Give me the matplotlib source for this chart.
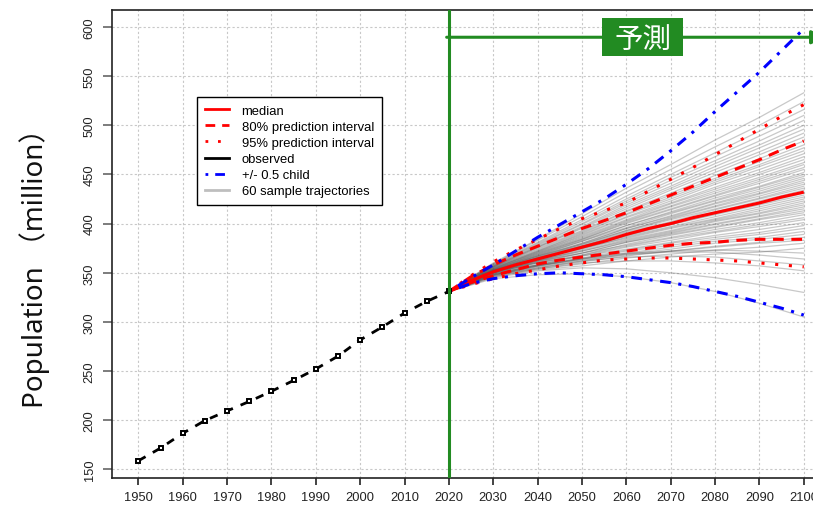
import matplotlib
matplotlib.use("Agg")
import matplotlib.pyplot as plt
from matplotlib.patches import Rectangle

# observed population (million), every 5 years
obs_years = [1950, 1955, 1960, 1965, 1970, 1975, 1980, 1985,
             1990, 1995, 2000, 2005, 2010, 2015, 2020]
obs_pop = [158.8, 171.7, 186.7, 199.7, 209.5, 219.1, 229.5, 240.5,
           252.1, 265.2, 281.7, 294.9, 309.0, 320.9, 331.0]

# projection summary, every 5 years
proj_years = [2020, 2025, 2030, 2035, 2040, 2045, 2050, 2055, 2060,
              2065, 2070, 2075, 2080, 2085, 2090, 2095, 2100]
median = [331, 342, 351, 358, 364, 370, 376, 382, 389,
          395, 400, 406, 411, 416, 421, 427, 432]
pi80_low = [331, 340, 347, 353, 359, 363, 366, 369, 372,
            375, 378, 380, 381, 383, 384, 384, 384]
pi80_high = [331, 346, 358, 368, 377, 386, 395, 403, 411,
             420, 429, 438, 447, 456, 465, 475, 484]
pi95_low = [331, 338, 344, 349, 353, 357, 360, 363, 364,
            365, 365, 364, 363, 362, 360, 358, 356]
pi95_high = [331, 347, 361, 373, 384, 395, 405, 413, 421,
             433, 445, 457, 470, 483, 496, 509, 521]
half_child_low = [331, 339, 344, 347, 349, 350, 349, 348, 346,
                  343, 340, 336, 331, 326, 320, 314, 307]
half_child_high = [331, 345, 358, 372, 386, 399, 412, 425, 440,
                   456, 474, 493, 514, 534, 554, 576, 598]

# sample trajectories, every 10 years from 2020
traj_years = [2020, 2030, 2040, 2050, 2060, 2070, 2080, 2090, 2100]
trajectories = [
    [331, 344, 348, 349, 346, 340, 331, 319, 305],
    [331, 345, 352, 355, 354, 350, 345, 338, 330],
    [331, 346, 354, 360, 362, 362, 360, 357, 352],
    [331, 348, 356, 362, 366, 367, 366, 362, 358],
    [331, 347, 357, 364, 369, 371, 371, 368, 364],
    [331, 349, 358, 365, 370, 372, 373, 372, 370],
    [331, 346, 353, 357, 362, 366, 369, 371, 375],
    [331, 347, 354, 359, 365, 369, 373, 376, 380],
    [331, 350, 357, 363, 368, 372, 376, 380, 383],
    [331, 347, 355, 361, 367, 372, 377, 381, 386],
    [331, 348, 355, 362, 369, 374, 380, 384, 389],
    [331, 352, 358, 364, 370, 376, 382, 386, 392],
    [331, 348, 357, 364, 372, 378, 384, 389, 395],
    [331, 348, 357, 365, 373, 380, 386, 391, 398],
    [331, 353, 360, 367, 374, 381, 388, 394, 401],
    [331, 349, 358, 367, 376, 383, 391, 397, 404],
    [331, 350, 360, 368, 377, 385, 392, 399, 406],
    [331, 352, 362, 370, 378, 386, 394, 401, 409],
    [331, 348, 358, 368, 379, 388, 396, 404, 411],
    [331, 350, 360, 370, 381, 389, 397, 405, 413],
    [331, 351, 361, 370, 381, 390, 399, 407, 415],
    [331, 352, 363, 372, 382, 391, 400, 408, 417],
    [331, 349, 361, 372, 383, 392, 402, 410, 419],
    [331, 350, 362, 373, 384, 393, 403, 411, 421],
    [331, 353, 365, 375, 385, 395, 404, 413, 423],
    [331, 350, 362, 374, 386, 396, 405, 415, 425],
    [331, 351, 363, 375, 387, 397, 407, 417, 427],
    [331, 352, 364, 375, 388, 399, 409, 419, 429],
    [331, 350, 363, 376, 388, 399, 410, 420, 431],
    [331, 351, 365, 377, 389, 400, 411, 421, 432],
    [331, 352, 364, 377, 390, 401, 412, 423, 434],
    [331, 350, 365, 377, 391, 402, 414, 425, 436],
    [331, 352, 366, 378, 392, 404, 415, 426, 438],
    [331, 351, 365, 379, 393, 405, 417, 428, 440],
    [331, 353, 367, 379, 393, 406, 418, 430, 442],
    [331, 352, 366, 380, 395, 407, 420, 431, 444],
    [331, 352, 367, 380, 395, 408, 421, 433, 446],
    [331, 353, 367, 382, 396, 410, 423, 435, 448],
    [331, 352, 368, 382, 398, 411, 424, 437, 450],
    [331, 354, 368, 383, 398, 412, 426, 438, 452],
    [331, 353, 369, 384, 400, 414, 428, 441, 455],
    [331, 354, 369, 384, 401, 415, 429, 443, 457],
    [331, 353, 370, 385, 402, 417, 431, 445, 460],
    [331, 355, 370, 386, 403, 418, 433, 447, 462],
    [331, 354, 371, 387, 404, 420, 435, 450, 465],
    [331, 355, 371, 388, 406, 421, 437, 452, 468],
    [331, 354, 372, 389, 407, 423, 440, 455, 471],
    [331, 356, 372, 390, 409, 425, 442, 458, 474],
    [331, 355, 373, 391, 410, 427, 444, 460, 477],
    [331, 356, 374, 392, 412, 429, 446, 463, 480],
    [331, 356, 375, 393, 413, 431, 449, 466, 484],
    [331, 357, 376, 395, 415, 434, 452, 470, 488],
    [331, 356, 376, 396, 417, 436, 455, 473, 492],
    [331, 357, 377, 397, 419, 438, 458, 477, 496],
    [331, 357, 378, 399, 421, 441, 461, 480, 500],
    [331, 358, 379, 400, 423, 444, 464, 484, 505],
    [331, 358, 380, 402, 425, 447, 468, 489, 510],
    [331, 359, 381, 404, 428, 450, 472, 494, 516],
    [331, 359, 383, 407, 432, 455, 478, 500, 524],
    [331, 360, 384, 410, 436, 460, 485, 508, 533],
]

x_ticks = list(range(1950, 2101, 10))
y_ticks = list(range(150, 601, 50))
forecast_label = "予測"
y_label = "Population （million）"

green = "#228B22"
latin = "Liberation Sans"

fig = plt.figure(figsize=(8.13, 5.10), dpi=100)
ax = fig.add_axes([0.1374, 0.0602, 0.884, 0.9188])
ax.set_xlim(1944, 2106)
ax.set_ylim(141, 617.5)

ax.set_xticks(x_ticks)
ax.set_yticks(y_ticks)
ax.grid(True, color="#c8c8c8", linestyle=(0, (2, 2)), linewidth=0.8)
ax.set_axisbelow(True)

for t in trajectories:
    ax.plot(traj_years, t, color="#5a5a5a", alpha=0.33, lw=0.9)

ax.plot(proj_years, median, color="red", lw=2.2, solid_capstyle="butt")
ax.plot(proj_years, pi80_low, color="red", lw=2.2, dashes=(3.5, 2.5))
ax.plot(proj_years, pi80_high, color="red", lw=2.2, dashes=(3.5, 2.5))
ax.plot(proj_years, pi95_low, color="red", lw=2.2, dashes=(1, 3.5))
ax.plot(proj_years, pi95_high, color="red", lw=2.2, dashes=(1, 3.5))
ax.plot(proj_years, half_child_low, color="blue", lw=2.2, dashes=(1, 2.5, 3.5, 2.5))
ax.plot(proj_years, half_child_high, color="blue", lw=2.2, dashes=(1, 2.5, 3.5, 2.5))

ax.plot(obs_years, obs_pop, color="black", lw=2, dashes=(3, 3),
        marker="s", markersize=3.5, markerfacecolor="white",
        markeredgecolor="black", markeredgewidth=1.4)

# forecast marker: vertical line at 2020 and arrow to the right
ax.axvline(2020, color=green, lw=2.2, zorder=5)
ax.annotate("", xy=(2104.8, 589.5), xytext=(2019.5, 589.5),
            arrowprops=dict(arrowstyle="-|>", color=green, lw=2.2,
                            mutation_scale=20, shrinkA=0, shrinkB=0),
            annotation_clip=False, zorder=5)
ax.add_patch(Rectangle((2054.6, 570.2), 18.2, 38.6, facecolor=green,
                       edgecolor="none", zorder=6))
ax.text(2063.7, 587.0, forecast_label, color="white", fontsize=20.5,
        family=["Noto Sans CJK JP"], ha="center", va="center", zorder=7)

ax.tick_params(axis="x", length=5, width=1.2, pad=4, color="#222222",
               labelsize=9.3, labelcolor="#222222")
ax.tick_params(axis="y", length=6.5, width=1.2, pad=5, color="#666666",
               labelsize=9.3, labelcolor="#222222")
for lab in ax.get_xticklabels() + ax.get_yticklabels():
    lab.set_family(latin)
for lab in ax.get_yticklabels():
    lab.set_rotation(90)
    lab.set_va("center")

for s in ax.spines.values():
    s.set_linewidth(1.2)
    s.set_color("#222222")

fig.text(35 / 813, 1 - 261 / 510, y_label, rotation=90, ha="center", va="center",
         fontsize=20, family=["Noto Sans", "Noto Sans CJK JP"], color="#111111")

handles = [
    plt.Line2D([], [], color="red", lw=2),
    plt.Line2D([], [], color="red", lw=2, dashes=(3.5, 2.5)),
    plt.Line2D([], [], color="red", lw=2, dashes=(1, 3.5)),
    plt.Line2D([], [], color="black", lw=2),
    plt.Line2D([], [], color="blue", lw=2, dashes=(1, 2.5, 3.5, 2.5)),
    plt.Line2D([], [], color="#bebebe", lw=2),
]
labels = ["median", "80% prediction interval", "95% prediction interval",
          "observed", "+/- 0.5 child", "60 sample trajectories"]
leg = ax.legend(handles, labels, loc="upper left",
                bbox_to_anchor=(197 / 813, 1 - 97.7 / 510),
                bbox_transform=fig.transFigure, borderaxespad=0,
                prop={"family": latin, "size": 9.4}, frameon=True,
                fancybox=False, edgecolor="black", framealpha=1,
                handlelength=1.85, handletextpad=0.95, labelspacing=0.3,
                borderpad=0.62)
leg.get_frame().set_linewidth(1.0)

fig.savefig("out.png", dpi=100)
